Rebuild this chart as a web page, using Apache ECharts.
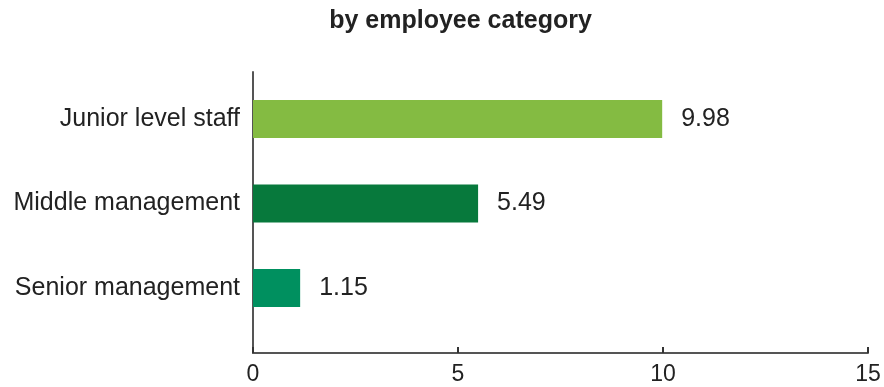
<!DOCTYPE html>
<html>
<head>
<meta charset="utf-8">
<script src="https://cdn.jsdelivr.net/npm/echarts@6/dist/echarts.min.js"></script>
<style>
  html, body { margin: 0; padding: 0; background: #fff; }
  #chart { width: 884px; height: 387px; }
</style>
</head>
<body>
<div id="chart"></div>
<script>
// Categories listed bottom-to-top (category axis runs upward)
const categories = ['Senior management', 'Middle management', 'Junior level staff'];
const values = [1.15, 5.49, 9.98];
const barColors = ['#00905F', '#07793C', '#84BB42'];
const xTicks = [0, 5, 10, 15];

const FONT = '"Liberation Sans", Arial, Helvetica, sans-serif';
const AXIS_COLOR = '#555555';

const chart = echarts.init(document.getElementById('chart'), null, { renderer: 'canvas' });

chart.setOption({
  backgroundColor: '#ffffff',
  animation: false,
  title: {
    text: 'by employee category',
    left: 455.5,
    textAlign: 'center',
    top: 4,
    textStyle: { fontFamily: FONT, fontWeight: 'bold', fontSize: 25, color: '#222222' }
  },
  grid: [
    // bars
    { left: 253, right: 16, top: 76.75, bottom: 56.75 },
    // frame with the full-length axes
    { left: 253, right: 16, top: 72, bottom: 34 }
  ],
  xAxis: [
    {
      gridIndex: 0, type: 'value', min: xTicks[0], max: xTicks[xTicks.length - 1], interval: 5,
      show: false
    },
    {
      gridIndex: 1, type: 'value', min: xTicks[0], max: xTicks[xTicks.length - 1], interval: 5,
      axisLine: { show: true, lineStyle: { color: AXIS_COLOR, width: 2 } },
      axisTick: { show: true, inside: true, length: 6, lineStyle: { color: '#333333', width: 2 } },
      axisLabel: {
        show: true, margin: 10, fontFamily: FONT, fontSize: 23, color: '#222222',
        formatter: v => xTicks.includes(v) ? String(v) : ''
      },
      splitLine: { show: false }
    }
  ],
  yAxis: [
    {
      gridIndex: 0, type: 'category', data: categories,
      axisLine: { show: false },
      axisTick: { show: false },
      axisLabel: { margin: 13, fontFamily: FONT, fontSize: 25, color: '#222222' }
    },
    {
      gridIndex: 1, type: 'value', min: 0, max: 1,
      axisLine: { show: true, lineStyle: { color: AXIS_COLOR, width: 2 } },
      axisTick: { show: false },
      axisLabel: { show: false },
      splitLine: { show: false }
    }
  ],
  series: [
    {
      type: 'bar',
      xAxisIndex: 0,
      yAxisIndex: 0,
      barWidth: 38,
      data: values.map((v, i) => ({ value: v, itemStyle: { color: barColors[i] } })),
      label: {
        show: true,
        position: 'right',
        distance: 19,
        fontFamily: FONT,
        fontSize: 25,
        color: '#222222',
        formatter: p => p.value.toFixed(2)
      }
    }
  ]
});
</script>
</body>
</html>
